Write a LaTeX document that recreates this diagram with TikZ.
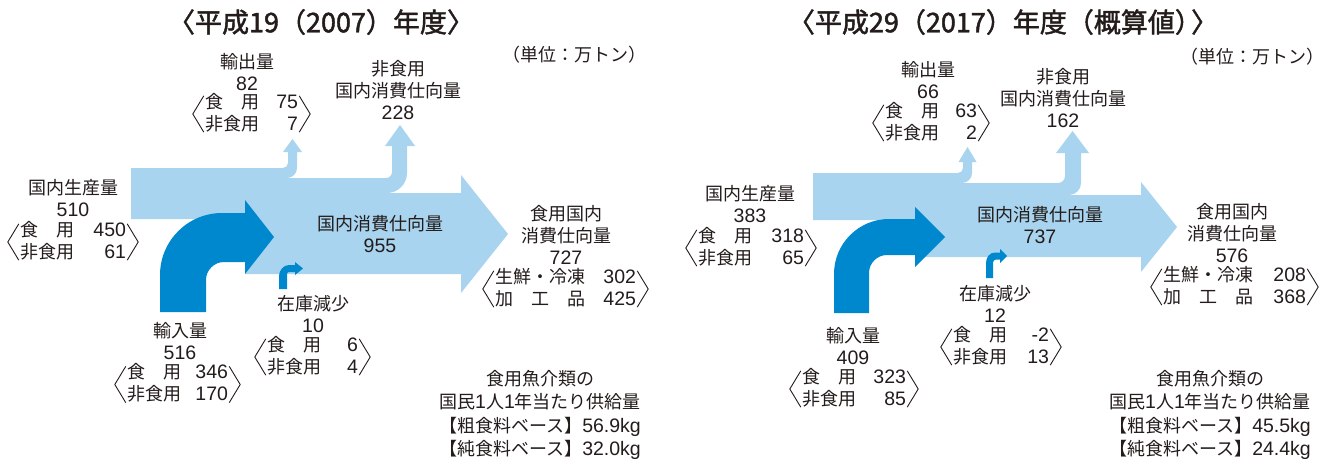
\documentclass[tikz,border=0pt]{standalone}
\usepackage{fontspec}
\newfontfamily\jp{Noto Sans CJK JP}
\newfontfamily\jpt[FakeBold=1.6]{Noto Sans CJK JP}
\newfontfamily\lat{Liberation Sans}
\definecolor{lb}{RGB}{168,212,239}
\definecolor{db}{RGB}{0,136,206}
\definecolor{tc}{RGB}{35,28,26}
\newcommand\num[1]{{\lat\fontsize{19.5}{22}\selectfont #1}}
\newcommand\pr[5]{\begin{tabular*}{#1pt}{@{}l@{\extracolsep{\fill}}r@{}}#2&\num{#3}\\#4&\num{#5}\end{tabular*}}
\newcommand\brk[1]{%
  \draw[bk] ([xshift=-1pt,yshift=-3pt]#1.north west) -- ([xshift=-12pt,yshift=1pt]#1.west) -- ([xshift=-1pt,yshift=5pt]#1.south west);
  \draw[bk] ([xshift=1pt,yshift=-3pt]#1.north east) -- ([xshift=12pt,yshift=1pt]#1.east) -- ([xshift=1pt,yshift=5pt]#1.south east);}
\newcommand\sh{\hspace{1em}}
\tikzset{
  t/.style={font=\jp\fontsize{18}{22}\selectfont, text=tc, inner sep=0pt, align=center},
  ttl/.style={font=\jpt\fontsize{27}{30}\selectfont, text=tc, inner sep=0pt},
  bk/.style={draw=tc, line width=0.9pt, line join=miter},
  lf/.style={fill=lb},
  df/.style={fill=db}
}
\begin{document}
\begin{tikzpicture}[x=1pt,y=-1pt]
\fill[white] (0,0) rectangle (1327,461);
\useasboundingbox (0,0) rectangle (1327,461);

% ---------------- left diagram shapes ----------------
\fill[lf] (131,168) -- (283,168) .. controls (285.8,168) and (288,165.8) .. (288,163) -- (288,152) -- (283,152) -- (292.5,139) -- (302,152) -- (297,152) -- (297,168) .. controls (297,173.5) and (292.5,178) .. (287,178) -- (131,178) -- cycle;
\fill[lf] (131,178) -- (386,178) .. controls (389.3,178) and (392,175.3) .. (392,172) -- (392,146) -- (385,146) -- (400,125) -- (415,146) -- (407,146) -- (407,173) .. controls (407,184) and (398,193) .. (387,193) -- (131,193) -- cycle;
\fill[lf] (131,193) -- (461,193) -- (461,175) -- (508,234) -- (461,293) -- (461,274) -- (245,274) -- (245,219) -- (131,219) -- cycle;
\fill[df] (160,312) -- (160,275) .. controls (160,240.8) and (187.8,213) .. (222,213) -- (245,213) -- (245,200) -- (274,237) -- (245,274) -- (245,262) -- (224,262) .. controls (214.1,262) and (206,270.1) .. (206,280) -- (206,312) -- cycle;
\fill[df] (279,289) -- (279,276) .. controls (279,270.5) and (283.5,265) .. (289,265) -- (295,265) -- (295,262) -- (303,268.5) -- (295,275) -- (295,272) -- (289,272) .. controls (288,272) and (287,273) .. (287,274) -- (287,289) -- cycle;

% ---------------- right diagram shapes ----------------
\fill[lf] (813,173) -- (958,173) .. controls (960.8,173) and (963,170.8) .. (963,168) -- (963,162) -- (958.5,162) -- (967.5,147) -- (976.5,162) -- (972,162) -- (972,173) .. controls (972,178.5) and (967.5,183) .. (962,183) -- (813,183) -- cycle;
\fill[lf] (813,183) -- (1058,183) .. controls (1061.9,183) and (1065,179.9) .. (1065,176) -- (1065,153) -- (1056,153) -- (1072.5,131) -- (1089,153) -- (1081,153) -- (1081,183) .. controls (1081,189.6) and (1075.6,195) .. (1069,195) -- (813,195) -- cycle;
\fill[lf] (813,195) -- (1141,195) -- (1141,182) -- (1177,227) -- (1141,272) -- (1141,257) -- (915,257) -- (915,220) -- (813,220) -- cycle;
\fill[df] (834,313) -- (834,274) .. controls (834,243.6) and (858.6,219) .. (889,219) -- (915,219) -- (915,207) -- (945,237) -- (915,267) -- (915,255) -- (887,255) .. controls (877.1,255) and (869,263.1) .. (869,273) -- (869,313) -- cycle;
\fill[df] (986,278) -- (986,263) .. controls (986,257) and (990,252.5) .. (995,252.5) -- (1000,252.5) -- (1000,249) -- (1007,256) -- (1000,263) -- (1000,259.5) -- (996,259.5) .. controls (994.5,259.5) and (993,261) .. (993,262.5) -- (993,278) -- cycle;

% ---------------- left texts ----------------
\node[ttl] (Ltitle) at (321,22) {〈平成19（2007）年度〉};
\node[t] (Lunit) at (574,55) {（単位：万トン）};
\node[t] (Lex) at (247,72.5) {輸出量\\\num{82}};
\node[t] (Lexb) at (251.5,115) {\pr{93}{食\sh 用}{75}{非食用}{7}};
\brk{Lexb}
\node[t] (Lnf) at (398,90) {非食用\\国内消費仕向量\\\num{228}};
\node[t] (Lpr) at (73,198.5) {国内生産量\\\num{510}};
\node[t] (Lprb) at (73,243) {\pr{106}{食\sh 用}{450}{非食用}{61}};
\brk{Lprb}
\node[t] (Ldc) at (380,234) {国内消費仕向量\\\num{955}};
\node[t] (Lfd) at (566,235) {食用国内\\消費仕向量\\\num{727}};
\node[t] (Lfdb) at (565.5,290) {\pr{141}{生鮮・冷凍}{302}{加\sh 工\sh 品}{425}};
\brk{Lfdb}
\node[t] (Lst) at (313,314) {在庫減少\\\num{10}};
\node[t] (Lstb) at (312.5,358) {\pr{91}{食\sh 用}{6}{非食用}{4}};
\brk{Lstb}
\node[t] (Lim) at (180,341) {輸入量\\\num{516}};
\node[t] (Limb) at (177.5,385.5) {\pr{101}{食\sh 用}{346}{非食用}{170}};
\brk{Limb}
\node[t, font=\jp\fontsize{18}{23.3}\selectfont] (Lsup) at (540,415) {食用魚介類の\\国民\num{1}人\num{1}年当たり供給量\\【粗食料ベース】\num{56.9kg}\\【純食料ベース】\num{32.0kg}};

% ---------------- right texts ----------------
\node[ttl] (Rtitle) at (1003,22) {〈平成29（2017）年度（概算値）\kern-0.4em〉};
\node[t] (Runit) at (1252,57) {（単位：万トン）};
\node[t] (Rex) at (928,80.5) {輸出量\\\num{66}};
\node[t] (Rexb) at (931,124) {\pr{92}{食\sh 用}{63}{非食用}{2}};
\brk{Rexb}
\node[t] (Rnf) at (1063,98) {非食用\\国内消費仕向量\\\num{162}};
\node[t] (Rpr) at (750,204.5) {国内生産量\\\num{383}};
\node[t] (Rprb) at (751,249) {\pr{106}{食\sh 用}{318}{非食用}{65}};
\brk{Rprb}
\node[t] (Rdc) at (1040,225.5) {国内消費仕向量\\\num{737}};
\node[t] (Rfd) at (1232,233) {食用国内\\消費仕向量\\\num{576}};
\node[t] (Rfdb) at (1234.5,288) {\pr{143}{生鮮・冷凍}{208}{加\sh 工\sh 品}{368}};
\brk{Rfdb}
\node[t] (Rst) at (995,304) {在庫減少\\\num{12}};
\node[t] (Rstb) at (1001,348) {\pr{96}{食\sh 用}{-2}{非食用}{13}};
\brk{Rstb}
\node[t] (Rim) at (853,346) {輸入量\\\num{409}};
\node[t] (Rimb) at (854,390) {\pr{104}{食\sh 用}{323}{非食用}{85}};
\brk{Rimb}
\node[t, font=\jp\fontsize{18}{23.3}\selectfont] (Rsup) at (1210,415) {食用魚介類の\\国民\num{1}人\num{1}年当たり供給量\\【粗食料ベース】\num{45.5kg}\\【純食料ベース】\num{24.4kg}};
\end{tikzpicture}
\end{document}
